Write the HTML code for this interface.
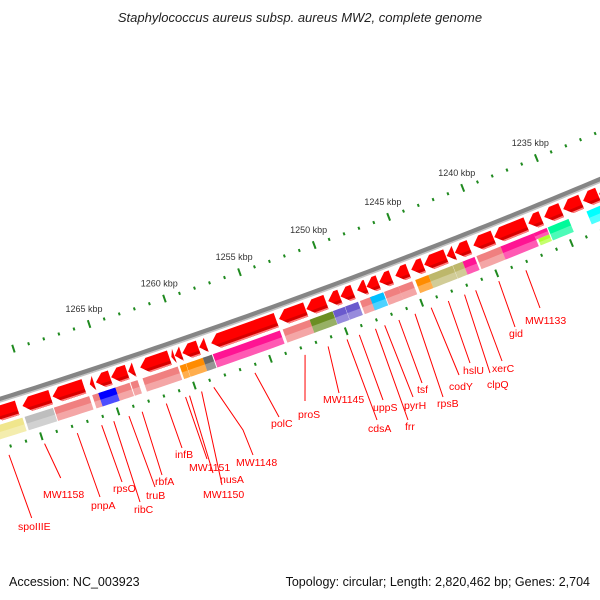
<!DOCTYPE html>
<html>
<head>
<meta charset="utf-8">
<style>
  html,body{margin:0;padding:0;background:#fff;}
  svg{display:block;}
  text{font-family:"Liberation Sans",sans-serif;}
</style>
</head>
<body>
<svg id="map" width="600" height="600" viewBox="0 0 600 600" xmlns="http://www.w3.org/2000/svg">
  <rect x="0" y="0" width="600" height="600" fill="#ffffff"/>
  <text x="300" y="22" text-anchor="middle" font-size="13" font-style="italic" fill="#222">Staphylococcus aureus subsp. aureus MW2, complete genome</text>
  <g id="ticks"></g>
  <g id="backbone"></g>
  <g id="fwd"></g>
  <g id="cog"></g>
  <g id="labels"></g>
  <text x="9" y="586" font-size="12.5" fill="#111">Accession: NC_003923</text>
  <text x="590" y="586" text-anchor="end" font-size="12.5" fill="#111">Topology: circular; Length: 2,820,462 bp; Genes: 2,704</text>
</svg>
<script>
// ---- data (kbp) ----
const geneLow  = [1270.9,1268.71,1266.53,1265.87,1264.80,1263.69,1263.23,1260.91,1260.58,1260.12,1259.0,1258.48,1253.85,1251.90,1250.55,1249.62,1248.75,1247.87,1247.07,1246.2,1245.07,1244.07,1242.55,1241.99,1240.98,1239.37,1237.16,1236.15,1234.81,1233.46,1232.32,1231.2];
const geneHigh = [1272.5,1270.55,1268.58,1266.14,1265.74,1264.74,1263.62,1262.83,1260.78,1260.55,1260.05,1258.94,1258.15,1253.66,1251.85,1250.40,1249.58,1248.48,1247.85,1247.0,1245.93,1244.87,1244.0,1242.50,1241.95,1240.71,1239.31,1237.02,1235.95,1234.67,1233.33,1232.25];

const boxLow  = [1270.77,1268.78,1266.41,1265.75,1264.69,1263.76,1263.24,1260.6,1260.07,1258.95,1258.35,1253.86,1251.89,1250.37,1249.56,1248.68,1247.67,1247.0,1245.99,1245.07,1243.99,1242.38,1241.71,1240.91,1239.17,1236.95,1236.07,1236.07,1234.6,1231.5];
const boxHigh = [1273.01,1270.63,1268.72,1266.21,1265.81,1264.69,1263.70,1262.91,1260.47,1260.05,1258.95,1258.29,1253.67,1251.89,1250.35,1249.54,1248.55,1247.88,1246.95,1245.99,1244.87,1243.99,1242.36,1241.71,1240.78,1239.17,1236.95,1236.82,1236.0,1233.39];
const boxCat  = ['Y','S','P','P','B','P','P','P','O','O','D','M','P','G','V','V','P','C','P','P','O','K','K','M','P','M','M','L','T','A'];
const boxPart = [0,0,0,0,0,0,0,0,0,0,0,0,0,0,0,0,0,0,0,0,0,0,0,0,0,0,1,2,0,0];

const tickFrom = 1229, tickTo = 1275, tickMajorEvery = 5;
const tickLabelFrom = 1235, tickLabelTo = 1265;

const labelNames = ['spoIIIE','MW1158','pnpA','rpsO','ribC','truB','rbfA','infB','MW1151','nusA','MW1150','MW1148','polC','proS','MW1145','cdsA','uppS','frr','pyrH','tsf','rpsB','codY','hslU','clpQ','xerC','gid','MW1133'];
const labelKbp   = [1272.26,1269.95,1267.82,1266.23,1265.44,1264.45,1263.59,1262.01,1260.75,1260.49,1259.70,1258.90,1256.20,1252.90,1251.38,1250.13,1249.32,1248.25,1247.64,1246.70,1245.63,1244.56,1243.42,1242.34,1241.60,1240.06,1238.25];

// ---- layout ----
const labelEnd = [[31.7,518],[60.7,478],[100,497],[122,482],[140,502],[155,487],[162,475],[182,448],[207,459],[213,473],[222,485],[253,455],[279,417],[305,401],[339,393],[377,420],[383,400],[408,420],[413,397],[422,383],[443,397],[459,375],[470,363],[490,373],[502,361],[515,327],[540,308]];
const labelText = [[18,530],[43,498],[91,509],[113,492],[134,513],[146,499],[155,485],[175,458],[189,471],[220,483],[203,498],[236,466],[271,427],[298,418],[323,403],[368,432],[373,411],[405,430],[404,409],[417,393],[437,407],[449,390],[463,374],[487,388],[492,372],[509,337],[525,324]];
const catColor = {Y:'#f0e68c',S:'#bebebe',P:'#f08080',B:'#0000ff',O:'#ff8c00',D:'#696969',M:'#ff1493',G:'#6b8e23',V:'#6a5acd',C:'#00bfff',K:'#bdb76b',L:'#adff2f',T:'#00fa9a',A:'#00ffff'};

const CX=-2036, CY=-6088, R=6800, A0=1.21544, K=0.002355;
const NS='http://www.w3.org/2000/svg';
function ang(kbp){return A0+(kbp-1250)*K;}
function pt(kbp,d){const a=ang(kbp);return [CX+(R+d)*Math.cos(a), CY+(R+d)*Math.sin(a)];}
function P(p){return p[0].toFixed(2)+','+p[1].toFixed(2);}
function mk(tag,attrs,parent){const e=document.createElementNS(NS,tag);for(const k in attrs)e.setAttribute(k,attrs[k]);parent.appendChild(e);return e;}
function arcPts(s,e,d1,d2){const n=6,out=[];for(let i=0;i<=n;i++)out.push(pt(s+(e-s)*i/n,d1));for(let i=n;i>=0;i--)out.push(pt(s+(e-s)*i/n,d2));return out.map(P).join(' ');}

// backbone
const bb=document.getElementById('backbone');
(function(){
  let d1='',d2='';
  for(let k=1280;k>=1225;k-=0.5){const p=pt(k,-1),q=pt(k,1.8);d1+=(d1?'L':'M')+P(p);d2+=(d2?'L':'M')+P(q);}
  const l1=mk('path',{d:d1,fill:'none',stroke:'#858585','stroke-width':4.5},bb);
  
  
  const l2=mk('path',{d:d2,fill:'none',stroke:'#c4c4c4','stroke-width':1.6},bb);
  
  
})();

// ticks
const tg=document.getElementById('ticks');
for(let k=tickFrom;k<=tickTo;k++){
  const major=(k%tickMajorEvery===0);
  [-45,47].forEach(dc=>{
    const h=major?4:1.5;
    const ln=mk('line',{x1:pt(k,dc-h)[0],y1:pt(k,dc-h)[1],x2:pt(k,dc+h)[0],y2:pt(k,dc+h)[1],stroke:'#1f8a1f','stroke-width':2},tg);
    
    
  });
  if(major && k>=tickLabelFrom && k<=tickLabelTo){
    const c=pt(k,-61);
    const t=mk('text',{x:c[0],y:c[1]+3,'text-anchor':'middle','font-size':9,fill:'#333'},tg);
    t.textContent=k+' kbp';
    
    
  }
}

// red gene arrows (row 1), pointing toward higher kbp
const fg=document.getElementById('fwd');
const D1=5,D2=20,DM=12.5;
function arrowPts(s,e,da,db){
  const hl=Math.min(0.5,e-s);
  const headAt=d=>e-hl*Math.abs(d-DM)/(D2-DM);
  const pts=[pt(s,da),pt(headAt(da),da)];
  if(da<DM&&db>DM)pts.push(pt(e,DM));
  pts.push(pt(headAt(db),db),pt(s,db));
  return pts.map(P).join(' ');
}
for(let i=0;i<geneLow.length;i++){
  const g=mk('g',{},fg);
  
  
  mk('polygon',{points:arrowPts(geneLow[i],geneHigh[i],D1,D2),fill:'#ff0000'},g);
  mk('polygon',{points:arrowPts(geneLow[i],geneHigh[i],15.5,D2),fill:'#d80000'},g);
  mk('polygon',{points:arrowPts(geneLow[i],geneHigh[i],18.5,D2),fill:'#ff8080'},g);
}

// coloured boxes (row 2)
const cg=document.getElementById('cog');
const B1=23.5,B2=37.5,BM=30.5;
for(let i=0;i<boxLow.length;i++){
  const a=boxPart[i]===2?BM:B1, b=boxPart[i]===1?BM:B2;
  const g=mk('g',{},cg);
  
  
  mk('polygon',{points:arcPts(boxLow[i],boxHigh[i],a,b),fill:catColor[boxCat[i]]},g);
  const m=(a+b)/2;
  mk('polygon',{points:arcPts(boxLow[i],boxHigh[i],m,b),fill:'#ffffff','fill-opacity':0.3},g);
}

// labels
const lg=document.getElementById('labels');
for(let i=0;i<labelNames.length;i++){
  const s=pt(labelKbp[i],55);
  let d='M'+P(s);
  if(labelNames[i]==='MW1148')d+='L243,430';
  d+='L'+labelEnd[i][0]+','+labelEnd[i][1];
  const ln=mk('path',{d:d,fill:'none',stroke:'#ff0000','stroke-width':1},lg);
  
  
  const t=mk('text',{x:labelText[i][0],y:labelText[i][1],'font-size':10.5,fill:'#ff0000'},lg);
  t.textContent=labelNames[i];
  
  
}
</script>
</body>
</html>
